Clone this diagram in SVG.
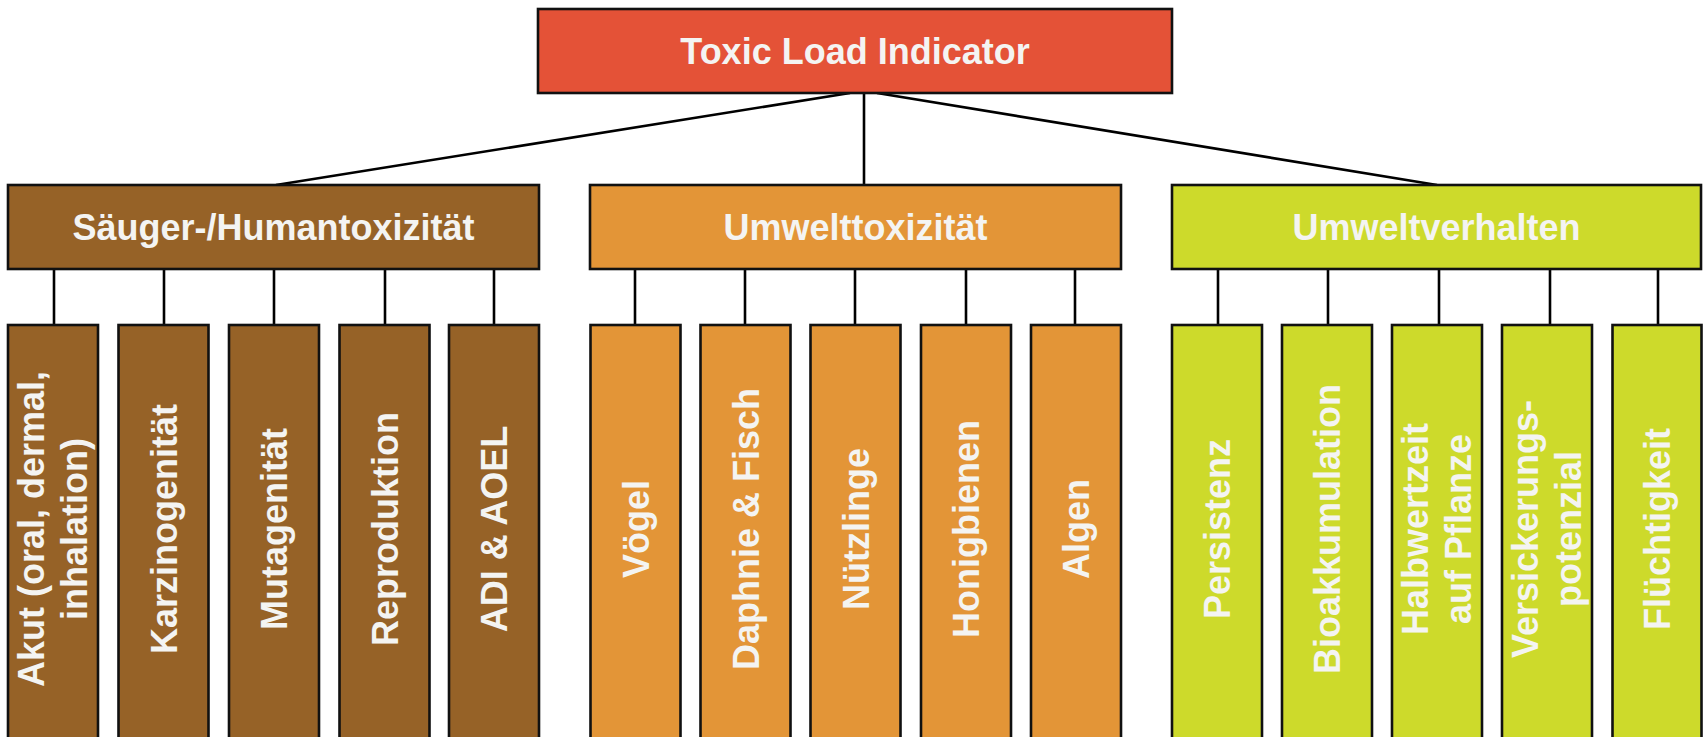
<svg xmlns="http://www.w3.org/2000/svg" width="1703" height="737" viewBox="0 0 1703 737">
<style>
rect{stroke:#111;stroke-width:2.6}
.red{fill:#E45237}
.brn{fill:#966227}
.org{fill:#E39537}
.grn{fill:#CDDA2B}
text{font-family:"Liberation Sans",Arial,sans-serif;font-weight:bold;font-size:36px;fill:#F4F4F2;text-anchor:middle}
#connectors line{stroke:#000;stroke-width:2.6}
</style>
<rect width="1703" height="737" fill="#fff" style="stroke:none"/>
<g id="connectors">
<line x1="850" y1="93" x2="276" y2="185"/>
<line x1="864" y1="93" x2="864" y2="185"/>
<line x1="877" y1="93" x2="1437" y2="185"/>
<line x1="54" y1="269" x2="54" y2="325"/>
<line x1="164" y1="269" x2="164" y2="325"/>
<line x1="274" y1="269" x2="274" y2="325"/>
<line x1="385" y1="269" x2="385" y2="325"/>
<line x1="494" y1="269" x2="494" y2="325"/>
<line x1="635" y1="269" x2="635" y2="325"/>
<line x1="745" y1="269" x2="745" y2="325"/>
<line x1="855" y1="269" x2="855" y2="325"/>
<line x1="966" y1="269" x2="966" y2="325"/>
<line x1="1075" y1="269" x2="1075" y2="325"/>
<line x1="1218" y1="269" x2="1218" y2="325"/>
<line x1="1328" y1="269" x2="1328" y2="325"/>
<line x1="1439" y1="269" x2="1439" y2="325"/>
<line x1="1550" y1="269" x2="1550" y2="325"/>
<line x1="1658" y1="269" x2="1658" y2="325"/>
</g>
<g id="root"><rect class="red" x="538" y="9" width="634" height="84"/><text x="855" y="64">Toxic Load Indicator</text></g>
<g id="saeuger"><rect class="brn" x="8" y="185" width="531" height="84"/><text x="273.5" y="240">Säuger-/Humantoxizität</text></g>
<g id="umwelttox"><rect class="org" x="590" y="185" width="531" height="84"/><text x="855.5" y="240">Umwelttoxizität</text></g>
<g id="umweltverh"><rect class="grn" x="1172" y="185" width="529" height="84"/><text x="1436.5" y="240">Umweltverhalten</text></g>

<g id="akut"><rect class="brn" x="8" y="325" width="90" height="420"/><text transform="translate(53,529) rotate(-90)"><tspan x="0" y="-9">Akut (oral, dermal,</tspan><tspan x="0" y="34">inhalation)</tspan></text></g>
<g id="karzino"><rect class="brn" x="118.5" y="325" width="90" height="420"/><text transform="translate(163.5,529) rotate(-90)" y="13">Karzinogenität</text></g>
<g id="mutagen"><rect class="brn" x="229" y="325" width="90" height="420"/><text transform="translate(274,529) rotate(-90)" y="13">Mutagenität</text></g>
<g id="repro"><rect class="brn" x="339.5" y="325" width="90" height="420"/><text transform="translate(384.5,529) rotate(-90)" y="13">Reproduktion</text></g>
<g id="adi"><rect class="brn" x="449" y="325" width="90" height="420"/><text transform="translate(494,529) rotate(-90)" y="13">ADI &amp; AOEL</text></g>

<g id="voegel"><rect class="org" x="590.5" y="325" width="90" height="420"/><text transform="translate(635.5,529) rotate(-90)" y="13">Vögel</text></g>
<g id="daphnie"><rect class="org" x="700.5" y="325" width="90" height="420"/><text transform="translate(745.5,529) rotate(-90)" y="13">Daphnie &amp; Fisch</text></g>
<g id="nuetzlinge"><rect class="org" x="810.5" y="325" width="90" height="420"/><text transform="translate(855.5,529) rotate(-90)" y="13">Nützlinge</text></g>
<g id="honig"><rect class="org" x="921" y="325" width="90" height="420"/><text transform="translate(966,529) rotate(-90)" y="13">Honigbienen</text></g>
<g id="algen"><rect class="org" x="1031" y="325" width="90" height="420"/><text transform="translate(1076,529) rotate(-90)" y="13">Algen</text></g>

<g id="persistenz"><rect class="grn" x="1172" y="325" width="90" height="420"/><text transform="translate(1217,529) rotate(-90)" y="13">Persistenz</text></g>
<g id="bioakk"><rect class="grn" x="1282" y="325" width="90" height="420"/><text transform="translate(1327,529) rotate(-90)" y="13">Bioakkumulation</text></g>
<g id="halbwert"><rect class="grn" x="1392" y="325" width="90" height="420"/><text transform="translate(1437,529) rotate(-90)"><tspan x="0" y="-9">Halbwertzeit</tspan><tspan x="0" y="34">auf Pflanze</tspan></text></g>
<g id="versick"><rect class="grn" x="1502" y="325" width="90" height="420"/><text transform="translate(1547,529) rotate(-90)"><tspan x="0" y="-9">Versickerungs-</tspan><tspan x="0" y="34">potenzial</tspan></text></g>
<g id="fluecht"><rect class="grn" x="1612.5" y="325" width="89" height="420"/><text transform="translate(1657,529) rotate(-90)" y="13">Flüchtigkeit</text></g>
</svg>
